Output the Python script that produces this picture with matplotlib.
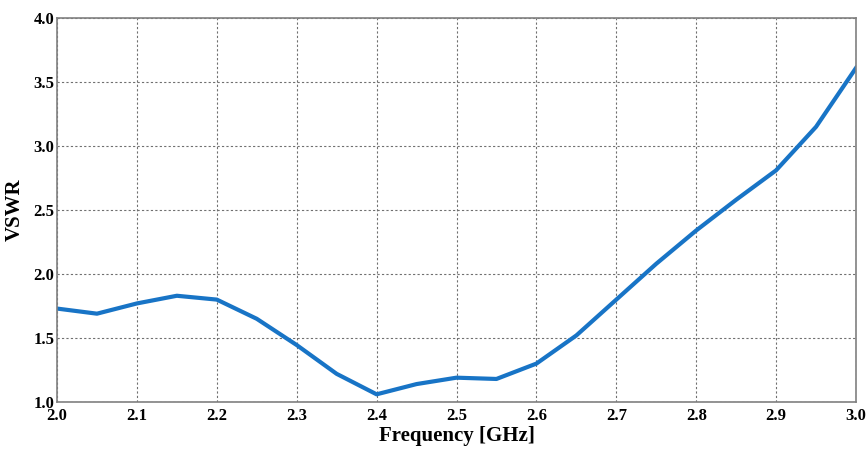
import matplotlib
matplotlib.use('Agg')
import matplotlib.pyplot as plt

# VSWR vs frequency, sampled every 50 MHz
freq = [2.0, 2.05, 2.1, 2.15, 2.2, 2.25, 2.3, 2.35, 2.4, 2.45, 2.5,
        2.55, 2.6, 2.65, 2.7, 2.75, 2.8, 2.85, 2.9, 2.95, 3.0]
vswr = [1.73, 1.69, 1.77, 1.83, 1.80, 1.65, 1.445, 1.22, 1.06, 1.14, 1.19,
        1.18, 1.30, 1.52, 1.80, 2.08, 2.34, 2.58, 2.81, 3.15, 3.61]

plt.rcParams['font.family'] = 'Liberation Serif'
plt.rcParams['font.weight'] = 'bold'

fig = plt.figure(figsize=(8.68, 4.5), dpi=100)
ax = fig.add_axes([57/868, 48/450, 799/868, 384/450])

ax.plot(freq, vswr, color='#1874c6', linewidth=3)

ax.set_xlim(2.0, 3.0)
ax.set_ylim(1.0, 4.0)
ax.set_xticks([2.0 + 0.1 * i for i in range(11)])
ax.set_yticks([1.0 + 0.5 * i for i in range(7)])
ax.tick_params(length=0, labelsize=12)
ax.tick_params(axis='x', pad=4)
ax.tick_params(axis='y', pad=2)
for lbl in ax.get_xticklabels() + ax.get_yticklabels():
    lbl.set_fontweight('bold')

ax.grid(True, linestyle=(0, (2, 2)), color='#707070', linewidth=0.8)
for s in ax.spines.values():
    s.set_color('#808080')
    s.set_linewidth(1.2)

ax.set_xlabel('Frequency [GHz]', fontsize=15, fontweight='bold', labelpad=2)
ax.set_ylabel('VSWR', fontsize=15, fontweight='bold', labelpad=6)

fig.savefig('out.png', dpi=100)
